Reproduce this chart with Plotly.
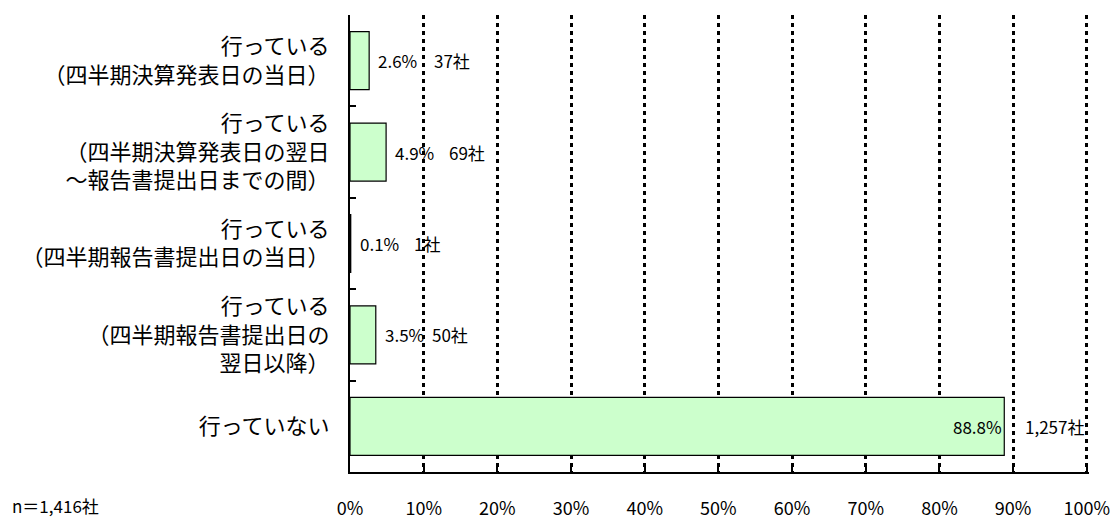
import plotly.graph_objects as go

categories = [
    "行っている<br>（四半期決算発表日の当日）",
    "行っている<br>（四半期決算発表日の翌日<br>～報告書提出日までの間）",
    "行っている<br>（四半期報告書提出日の当日）",
    "行っている<br>（四半期報告書提出日の<br>翌日以降）",
    "行っていない",
]
percents = [2.6, 4.9, 0.1, 3.5, 88.8]
counts = ["37社", "69社", "1社", "50社", "1,257社"]
x_ticks = [0, 10, 20, 30, 40, 50, 60, 70, 80, 90, 100]
tick_labels = ["0%", "10%", "20%", "30%", "40%", "50%", "60%", "70%", "80%", "90%", "100%"]
note = "n＝1,416社"

FONT = "Noto Sans CJK JP"

W, H = 1115, 520
L, R, T, B = 350, 26, 15, 48
PW, PH = W - L - R, H - T - B

fig = go.Figure()
fig.add_trace(go.Bar(
    y=categories, x=percents, orientation="h",
    marker=dict(color="#CCFFCC", line=dict(color="#000000", width=1.2)),
    hoverinfo="skip",
))

annotations = []
count_shift = [63, 61, 61, 54, 19]
for i, (c, p, n) in enumerate(zip(categories, percents, counts)):
    last = i == len(categories) - 1
    annotations.append(dict(
        x=p, y=c, xref="x", yref="y", text=f"{p:.1f}%", showarrow=False,
        xanchor="right" if last else "left", xshift=0 if last else 7,
        font=dict(family=FONT, size=17, color="#000000"),
    ))
    annotations.append(dict(
        x=p, y=c, xref="x", yref="y", text=n, showarrow=False,
        xanchor="left", xshift=count_shift[i],
        font=dict(family=FONT, size=17, color="#000000"),
    ))
annotations.append(dict(
    xref="paper", yref="paper", x=(10 - L) / PW, y=-33 / PH,
    text=note, showarrow=False, xanchor="left", yanchor="middle",
    font=dict(family=FONT, size=17, color="#000000"),
))

fig.update_layout(
    width=W, height=H,
    margin=dict(l=L, r=R, t=T, b=B, autoexpand=False),
    paper_bgcolor="white", plot_bgcolor="white",
    bargap=0.365, showlegend=False,
    font=dict(family=FONT, color="#000000"),
    annotations=annotations,
)
fig.update_xaxes(
    range=[0, 100.3], tickvals=x_ticks, ticktext=tick_labels,
    showgrid=True, gridcolor="#000000", gridwidth=3, griddash="4px,4px",
    showline=True, linecolor="#000000", linewidth=2,
    ticks="inside", ticklen=6, tickcolor="#000000", tickwidth=2,
    ticklabelstandoff=19, automargin=False,
    tickfont=dict(family=FONT, size=18, color="#000000"),
    zeroline=False, fixedrange=True,
)
fig.update_yaxes(
    categoryorder="array", categoryarray=categories, autorange="reversed",
    showline=True, linecolor="#000000", linewidth=2,
    ticks="inside", ticklen=6, tickcolor="#000000", tickwidth=2,
    tickson="boundaries", showgrid=False,
    ticklabelstandoff=14, automargin=False,
    tickfont=dict(family=FONT, size=22, color="#000000"),
    fixedrange=True,
)

fig.write_html(
    "out.html",
    config={"displayModeBar": False},
    post_script="document.body.style.margin='0';document.body.style.overflow='hidden';",
)
